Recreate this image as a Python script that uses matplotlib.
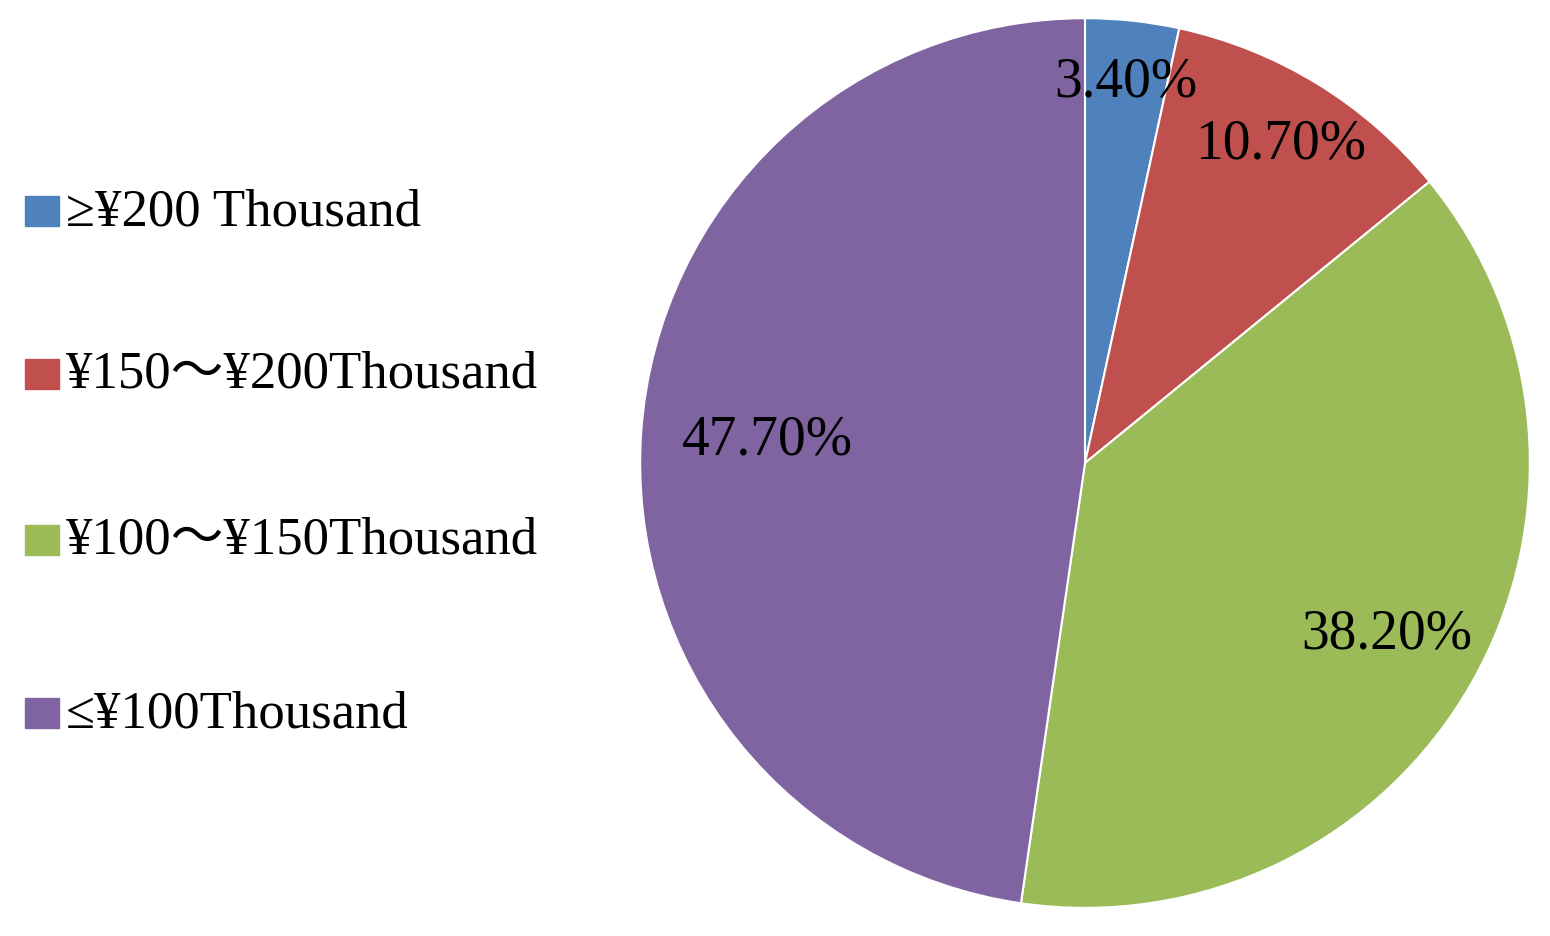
import matplotlib
matplotlib.use("Agg")
import matplotlib.pyplot as plt
from matplotlib.patches import Rectangle
import numpy as np

labels = ["≥¥200 Thousand", "¥150～¥200Thousand", "¥100～¥150Thousand", "≤¥100Thousand"]
values = [3.4, 10.7, 38.2, 47.7]
colors = ["#4f81bd", "#c0504d", "#9bbb59", "#8064a2"]
fam = ["Liberation Serif", "Noto Sans CJK SC", "DejaVu Sans"]

fig = plt.figure(figsize=(15.5, 9.36), dpi=100)
ax = fig.add_axes([0.7 - 0.287, 0.5053 - 0.4754, 0.574, 0.9508])
wedges, _ = ax.pie(values, colors=colors, startangle=90, counterclock=False,
                   wedgeprops=dict(edgecolor="white", linewidth=1.5))
ax.set_xlim(-1, 1); ax.set_ylim(-1, 1); ax.set_aspect("equal")
dists = [0.86, 0.84, 0.78, 0.715]
for w, v, d in zip(wedges, values, dists):
    ang = np.deg2rad((w.theta1 + w.theta2) / 2)
    ax.text(d * np.cos(ang), d * np.sin(ang), f"{v:.2f}%", ha="center", va="center",
            fontsize=40, family=fam)

rows_y = [212, 375, 541, 714]
for lab, c, y in zip(labels, colors, rows_y):
    fig.patches.append(Rectangle((25 / 1550, 1 - (y + 14) / 936), 34 / 1550, 30 / 936,
                                 transform=fig.transFigure, color=c))
    fig.text(66 / 1550, 1 - y / 936, lab, ha="left", va="center", fontsize=38, family=fam)

fig.savefig("out.png", dpi=100)
